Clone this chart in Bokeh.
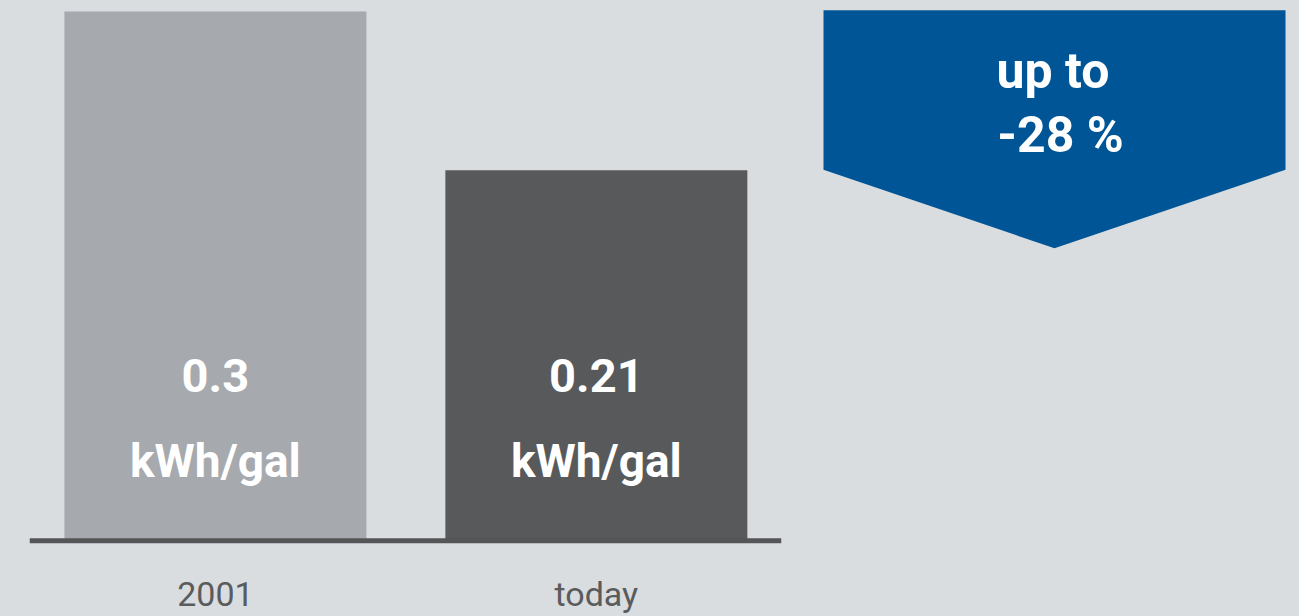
import numpy as np
from bokeh.plotting import figure
from bokeh.layouts import row
from bokeh.models import Range1d, ColumnDataSource, Span
from bokeh.core.properties import value
from bokeh.embed import file_html
from bokeh.resources import INLINE

# ---- data ----
categories = ["2001", "today"]
values = [0.3, 0.21]
unit_label = "kWh/gal"
bar_colors = ["#a6aaae", "#58595b"]
badge_lines = ["up to", "-28 %"]

BG = "#d9dde0"
BLUE = "#005597"
TEXT_GREY = "#5a5b5d"

xs = np.arange(len(categories))
src = ColumnDataSource(dict(
    x=xs,
    top=values,
    color=bar_colors,
    val=[f"{v:g}" for v in values],
    unit=[unit_label] * len(values),
    cat=categories,
))

# ---- left chart ----
p1 = figure(width=792, height=608,
            x_range=Range1d(-0.488, 1.486),
            y_range=Range1d(-0.04294, 0.30169),
            output_backend="svg", toolbar_location=None,
            x_axis_location=None, y_axis_location=None,
            min_border_left=21, min_border_right=19,
            min_border_top=0, min_border_bottom=0)
p1.background_fill_color = BG
p1.border_fill_color = BG
p1.outline_line_color = None
p1.grid.visible = False

p1.vbar(x="x", top="top", bottom=0, width=0.7927, color="color",
        line_color=None, source=src)

p1.add_layout(Span(location=0, dimension="width", line_color="#545557",
                   line_width=5))

p1.text(x="x", y=0, text="val", source=src, y_offset=-165,
        text_align="center", text_baseline="alphabetic",
        text_font=value("Roboto"), text_font_style="bold",
        text_font_size="47px", text_color="white")
p1.text(x="x", y=0, text="unit", source=src, y_offset=-80,
        text_align="center", text_baseline="alphabetic",
        text_font=value("Roboto"), text_font_style="bold",
        text_font_size="46px", text_color="white")
p1.text(x="x", y=0, text="cat", source=src, y_offset=53,
        text_align="center", text_baseline="alphabetic",
        text_font=value("Roboto"), text_font_size="34px",
        text_color=TEXT_GREY)

# ---- right badge ----
p2 = figure(width=491, height=608,
            x_range=Range1d(0, 491), y_range=Range1d(608, 0),
            output_backend="svg", toolbar_location=None,
            x_axis_location=None, y_axis_location=None,
            min_border=0)
p2.background_fill_color = BG
p2.border_fill_color = BG
p2.outline_line_color = None
p2.grid.visible = False

p2.patch(x=[23, 485, 485, 254, 23], y=[1.7, 1.7, 161.3, 239.7, 161.3],
         fill_color=BLUE, line_color=None)
p2.text(x=[252.5, 260], y=[62, 126], text=badge_lines,
        text_align="center", text_baseline="alphabetic",
        text_font=value("Roboto"), text_font_style="bold",
        text_font_size="50px", text_color="white")

layout = row(p1, p2, spacing=0)

html = file_html(layout, INLINE, "chart")
style = ("<style>html,body{background:%s;overflow:hidden;}"
         "html{margin:0;padding:0;}"
         "body{margin:8px 8px 0 8px;padding:0;}</style></head>") % BG
html = html.replace("</head>", style, 1)
open("out.html", "w").write(html)
